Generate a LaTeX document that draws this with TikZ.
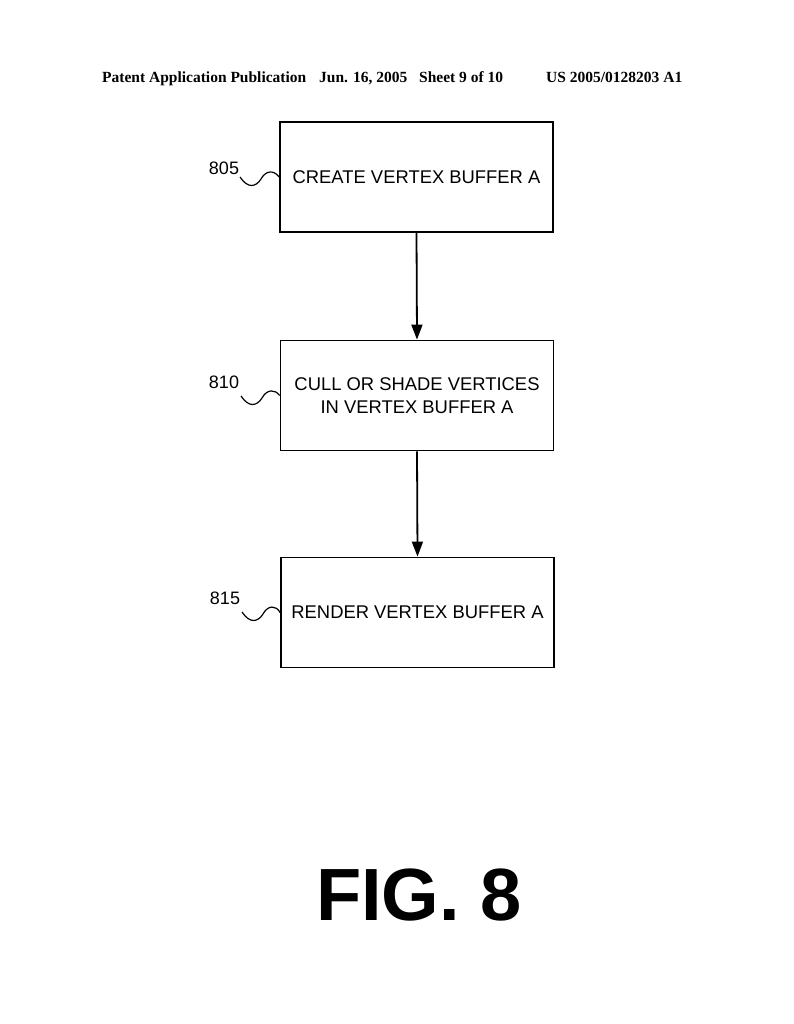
\documentclass[tikz,border=0pt]{standalone}
\usepackage{fontspec}
\setmainfont{Liberation Serif}
\newfontfamily\helv{Liberation Sans}
\usetikzlibrary{arrows.meta}
\begin{document}
\begin{tikzpicture}[x=1pt,y=-1pt,
  stepbox/.style={draw,line width=1.8pt,minimum width=273pt,minimum height=110pt,inner sep=0pt,font=\helv\fontsize{18.4}{23}\selectfont,align=center},
  reflabel/.style={font=\helv\fontsize{18}{20}\selectfont,inner sep=0pt},
  hdr/.style={font=\bfseries\fontsize{15.5}{17}\selectfont,inner sep=0pt,anchor=base west},
  flow/.style={line width=1.8pt,-{Triangle[length=15pt,width=11pt]}},
  squig/.style={line width=1.2pt}]
\useasboundingbox (0,0) rectangle (794,1024);
% header
\node[hdr] (h1) at (102,83) {Patent Application Publication};
\node[hdr] (h2) at (319,83) {Jun. 16, 2005};
\node[hdr] (h3) at (419,83) {Sheet 9 of 10};
\node[hdr] (h4) at (546,83) {US 2005/0128203 A1};
% boxes
\node[stepbox] (b1) at (416.5,177) {CREATE VERTEX BUFFER A};
\node[stepbox] (b2) at (417,395.5) {CULL OR SHADE VERTICES\\IN VERTEX BUFFER A};
\node[stepbox] (b3) at (417.5,612.5) {RENDER VERTEX BUFFER A};
% arrows
\draw[flow] (b1.south) -- (b2.north);
\draw[flow] (b2.south) -- (b3.north);
% reference labels
\node[reflabel] (l1) at (224,168) {805};
\node[reflabel] (l2) at (224,382) {810};
\node[reflabel] (l3) at (225,598) {815};
\coordinate (s1) at (240,177);
\coordinate (s2) at (241,396);
\coordinate (s3) at (242,612);
\draw[squig] (s1) .. controls (248,189) and (256,187) .. (261,179) .. controls (266,170) and (274,170) .. (b1.west);
\draw[squig] (s2) .. controls (249,408) and (257,406) .. (262,398) .. controls (267,389) and (275,389) .. (b2.west);
\draw[squig] (s3) .. controls (250,624) and (258,622) .. (263,614) .. controls (268,605) and (276,605) .. (b3.west);
% figure label
\node[font=\helv\bfseries\fontsize{74}{80}\selectfont,inner sep=0pt] (fig) at (419,895) {FIG. 8};
\end{tikzpicture}
\end{document}
